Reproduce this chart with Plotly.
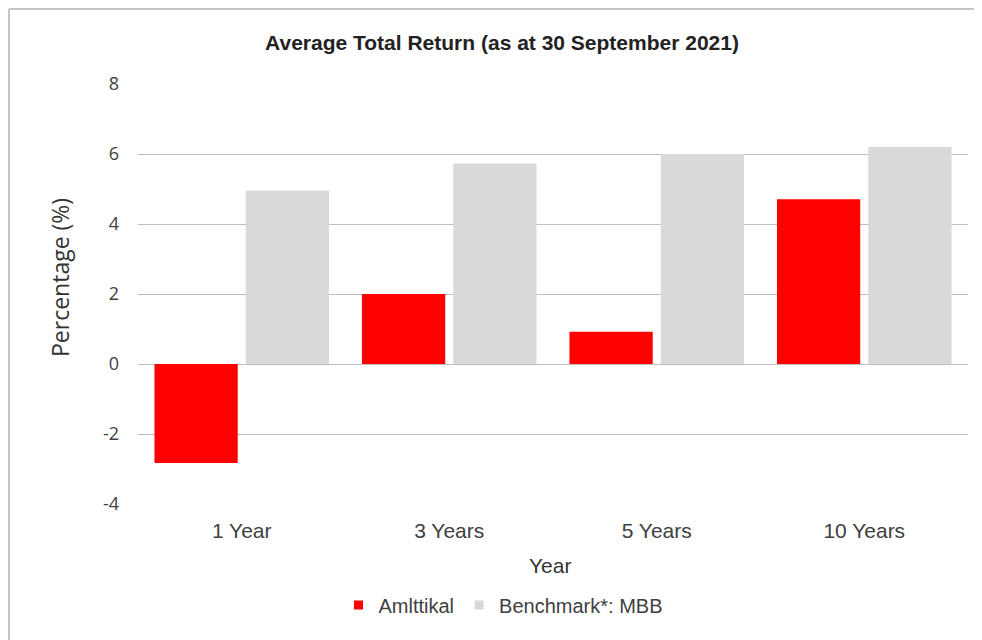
import plotly.graph_objects as go

categories = ["1 Year", "3 Years", "5 Years", "10 Years"]
amittikal = [-2.83, 2.0, 0.92, 4.71]
benchmark = [4.95, 5.73, 6.0, 6.2]
y_ticks = [-4, -2, 0, 2, 4, 6, 8]
series_names = ["Amlttikal", "Benchmark*: MBB"]
series_colors = ["#ff0000", "#d9d9d9"]

# page has an 8px body margin, so the figure is sized to fill the rest
OFF = 8
W, H = 974, 632
L, R, T, B = 130, 14, 76, 136
pw, ph = W - L - R, H - T - B

def fx(page_x):
    return (page_x - OFF - L) / pw

def fy(page_y):
    return (H - B - (page_y - OFF)) / ph

fig = go.Figure()
for name, vals, col in zip(series_names, [amittikal, benchmark], series_colors):
    fig.add_trace(go.Bar(x=categories, y=vals, name=name, showlegend=False,
                         marker=dict(color=col, line=dict(width=0))))
# legend entries with small square swatches
for name, col in zip(series_names, series_colors):
    fig.add_trace(go.Scatter(x=[None], y=[None], mode="markers", name=name,
                             marker=dict(symbol="square", size=9, color=col)))

arial = "Liberation Sans, Arial"
sans = "Open Sans, Noto Sans"

fig.update_layout(
    width=W, height=H,
    margin=dict(l=L, r=R, t=T, b=B),
    paper_bgcolor="white", plot_bgcolor="white",
    barmode="group", bargap=0.12, bargroupgap=0.088,
    title=dict(text="<b>Average Total Return (as at 30 September 2021)</b>",
               x=fx(502), xref="paper", xanchor="center",
               y=1 - (43 - OFF) / H, yanchor="middle",
               font=dict(family=arial, size=21, color="#222222")),
    font=dict(family=arial, color="#404040"),
    showlegend=True,
    legend=dict(orientation="h", x=fx(503), xanchor="center",
                y=fy(605), yanchor="middle",
                font=dict(family=arial, size=20, color="#404040"),
                itemwidth=30, traceorder="normal"),
    xaxis=dict(showgrid=False, showline=False, ticks="", ticklabelstandoff=12,
               tickfont=dict(family=arial, size=21, color="#404040")),
    yaxis=dict(range=[-4, 8], tickvals=y_ticks, ticktext=[str(v) for v in y_ticks],
               showgrid=True, gridcolor="#bdbdbd", gridwidth=1,
               zeroline=True, zerolinecolor="#bdbdbd", zerolinewidth=1,
               showline=False, ticks="", ticklabelstandoff=18,
               tickfont=dict(family=sans, size=18, color="#404040")),
    annotations=[
        dict(text="Percentage (%)", xref="paper", yref="paper",
             x=fx(60), y=fy(278), xanchor="center", yanchor="middle",
             textangle=-90, showarrow=False,
             font=dict(family=sans, size=23, color="#333333")),
        dict(text="Year", xref="paper", yref="paper",
             x=fx(550), y=fy(565), xanchor="center", yanchor="middle",
             showarrow=False,
             font=dict(family=arial, size=21, color="#333333")),
    ],
    shapes=[
        dict(type="line", xref="paper", yref="paper",
             x0=fx(9), x1=fx(982), y0=fy(9), y1=fy(9),
             line=dict(color="#c4c4c4", width=2)),
        dict(type="line", xref="paper", yref="paper",
             x0=fx(9), x1=fx(9), y0=fy(9), y1=fy(640),
             line=dict(color="#c4c4c4", width=2)),
    ],
)

fig.write_html("out.html")
